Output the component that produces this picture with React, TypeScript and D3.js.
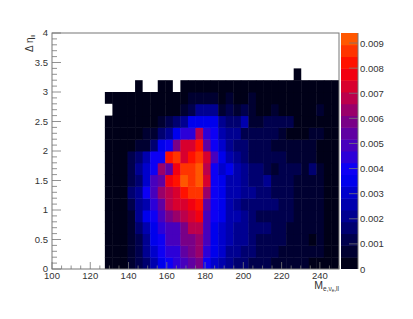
import React, { useEffect, useRef } from 'react';
import * as d3 from 'd3';

const _ = null;
// cell values in units of 1e-3, bottom row first, starting at the 8th x bin
const row00 = [.1,.1,.1,.5,1.0,1.6,2.6,3.7,4.2,4.4,4.9,5.4,6.0,4.0,3.2,2.6,2.0,1.7,1.5,1.3,1.2,1.0,.9,.8,.8,.6,.5,.4,.35,.3,.2];
const row01 = [.1,.1,.15,.8,1.3,2.0,3.0,3.8,4.4,4.6,5.2,5.9,6.2,4.3,3.7,2.9,2.2,1.9,1.8,1.5,1.3,1.2,1.0,.9,.9,.8,.6,.5,.5,.3,.2];
const row02 = [.1,.1,.2,.8,1.4,2.3,3.3,3.9,4.7,5.0,5.9,5.9,6.5,4.8,3.6,3.0,2.4,2.2,1.9,1.5,1.4,1.3,1.1,1.0,.9,.7,.6,.35,.6,.3,.3];
const row03 = [.1,.1,.2,.9,1.6,2.5,3.4,4.3,4.9,5.1,5.7,6.7,6.8,5.0,3.7,3.0,2.5,2.3,2.0,1.7,1.5,1.5,1.2,1.0,.9,.9,.8,.7,.6,.35,.3];
const row04 = [.1,.1,.2,.8,1.9,3.5,3.8,5.0,5.7,6.4,6.8,7.5,7.8,4.9,4.0,3.4,2.6,2.4,2.0,1.5,1.4,1.2,1.1,1.1,1.0,.9,.7,.6,.5,.3,.2];
const row05 = [.1,.1,.3,1.0,2.3,2.8,4.6,5.6,6.6,7.2,7.5,7.6,8.0,5.6,4.2,3.4,2.4,2.3,1.8,1.7,1.7,1.6,1.6,1.2,1.0,.9,.8,.5,.9,.3,.2];
const row06 = [.1,.1,.3,1.5,2.2,4.0,5.0,6.5,7.0,7.5,8.3,8.5,8.9,6.5,3.9,3.3,2.5,2.4,1.9,2.2,1.5,1.5,1.3,1.0,1.0,.9,.8,.7,.5,.4,.3];
const row07 = [.1,.1,.3,1.2,1.8,2.9,5.0,5.2,7.7,8.0,9.2,8.8,9.0,7.5,3.8,3.5,2.8,2.6,1.9,1.6,1.6,2.2,1.4,1.0,1.0,.8,.7,.6,.5,.4,.25];
const row08 = [.1,.1,.3,1.3,2.2,3.0,4.0,6.2,5.6,7.6,8.8,8.8,9.0,7.0,4.2,3.2,3.5,2.4,2.1,1.5,1.5,1.3,.9,1.2,1.3,1.0,.8,1.5,.5,.3,.25];
const row09 = [.1,.1,.3,1.0,1.7,2.5,3.9,4.0,8.0,8.5,7.5,8.3,8.7,7.2,5.0,3.5,2.6,2.0,1.7,1.2,1.2,1.2,1.2,1.1,.8,.8,.8,.5,.2,.4,.2];
const row10 = [.1,.1,.1,.3,.5,.8,1.5,3.5,3.9,5.8,7.3,7.3,8.2,5.5,3.9,3.2,2.3,1.8,1.6,1.3,1.1,1.0,.9,.9,.7,.7,.7,.5,.3,.3,.2];
const row11 = [.1,.1,.1,.15,.2,.5,.9,1.6,2.2,3.5,4.6,4.6,6.6,4.5,3.9,2.7,2.3,1.9,1.0,1.0,1.0,1.0,1.2,.7,.3,.3,.4,.6,.7,.2,.2];
const row12 = [.1,.1,.1,.1,.1,.2,.2,.8,1.0,1.6,2.0,3.5,3.7,3.7,3.6,2.0,1.7,1.5,2.4,.9,.9,1.0,1.0,1.0,1.0,.3,.2,.2,.2,.15,.15];
const row13 = [_,.1,.1,.1,.1,.1,.1,.2,.2,.3,.9,1.2,2.0,2.1,2.1,.9,1.3,.8,1.0,.5,.3,.2,.9,.2,.2,.2,.2,.2,.8,.15,.15];
const row14 = [.1,.1,.1,.1,.1,.1,.1,.1,.1,.1,.2,.6,.6,.6,.6,.3,.8,.2,.2,.6,.15,.15,.15,.15,.15,.15,.15,.15,.15,.15,.15];
const row15 = [_,_,_,_,.1,_,_,.1,.1,_,.1,.1,.1,.1,.1,.1,.1,.1,.1,.1,.1,.1,.1,.1,.1,.1,.1,.1,.1,.1,.1];
const row16 = [_,_,_,_,_,_,_,_,_,_,_,_,_,_,_,_,_,_,_,_,_,_,_,_,_,.1,_,_,_,_,_];
const rows = [row00,row01,row02,row03,row04,row05,row06,row07,row08,row09,row10,row11,row12,row13,row14,row15,row16];

const firstBin = 7;
const xBins = 38;
const yBins = 20;
const zMax = 9.4;
const zLevels = 20;
const zTicks = [0,.001,.002,.003,.004,.005,.006,.007,.008,.009];

const App = () => {
  const svgRef = useRef<SVGSVGElement>(null);

  useEffect(() => {
    const svg = d3.select(svgRef.current);
    svg.selectAll('*').remove();

    const left = 52, right = 339, top = 33, bottom = 269;
    const barL = 341, barR = 358;
    const textCol = '#333';
    const lineCol = '#777';

    const x = d3.scaleLinear().domain([100, 250]).range([left, right]);
    const y = d3.scaleLinear().domain([0, 4]).range([bottom, top]);
    const xBand = d3.scaleLinear().domain([0, xBins]).range([left, right]);
    const yBand = d3.scaleLinear().domain([0, yBins]).range([bottom, top]);
    const zAxisScale = d3.scaleLinear().domain([0, 0.0094]).range([bottom, top]);

    const ramp = d3.scaleLinear<string>()
      .domain([0, 1, 2, 3, 3.8, 4.6, 6, 7, 8, 9.4])
      .range(['#00000c', '#000040', '#00008a', '#0000c8', '#0000ff', '#3500d0', '#800080', '#c80040', '#ff0000', '#ff6800'])
      .clamp(true);
    const level = (v: number) => Math.min(zLevels - 1, Math.floor((v / zMax) * zLevels));
    const color = (v: number) => ramp(((level(v) + 0.5) * zMax) / zLevels);

    // heat map cells, painted with a small overlap so no white seams show
    rows.forEach((row, j) => {
      row.forEach((v, i) => {
        if (v === null) return;
        const col = i + firstBin;
        const hasRight = row[i + 1] != null;
        const hasBelow = j > 0 && rows[j - 1][i] != null;
        svg.append('rect')
          .attr('x', xBand(col))
          .attr('y', yBand(j + 1))
          .attr('width', xBand(col + 1) - xBand(col) + (hasRight ? 0.45 : 0))
          .attr('height', yBand(j) - yBand(j + 1) + (hasBelow ? 0.45 : 0))
          .attr('fill', color(v));
      });
    });

    // colour bar
    d3.range(zLevels).forEach(k => {
      const lo = (k * zMax) / zLevels;
      const hi = ((k + 1) * zMax) / zLevels;
      svg.append('rect')
        .attr('x', barL)
        .attr('y', zAxisScale(hi / 1000))
        .attr('width', barR - barL)
        .attr('height', zAxisScale(lo / 1000) - zAxisScale(hi / 1000) + (k > 0 ? 0.45 : 0))
        .attr('fill', ramp((lo + hi) / 2));
    });

    // frame
    svg.append('rect')
      .attr('x', left).attr('y', top)
      .attr('width', right - left).attr('height', bottom - top)
      .attr('fill', 'none').attr('stroke', lineCol).attr('stroke-width', 1);

    const tick = (x1: number, y1: number, x2: number, y2: number) =>
      svg.append('line')
        .attr('x1', x1).attr('y1', y1).attr('x2', x2).attr('y2', y2)
        .attr('stroke', lineCol).attr('stroke-width', 0.8);

    const label = (tx: number, ty: number, s: string, anchor: string, size = 9.5) =>
      svg.append('text')
        .attr('x', tx).attr('y', ty)
        .attr('text-anchor', anchor)
        .attr('font-family', 'Liberation Sans')
        .attr('font-size', size)
        .attr('fill', textCol)
        .text(s);

    // x axis
    d3.range(100, 251, 5).forEach(v => {
      const major = v % 20 === 0;
      tick(x(v), bottom, x(v), bottom - (major ? 7 : 3.5));
    });
    x.ticks(8).filter(v => v % 20 === 0).forEach(v => label(x(v), 279, String(v), 'middle'));

    // y axis
    d3.range(0, 41).forEach(k => {
      const v = k / 10;
      tick(left, y(v), left + (k % 5 === 0 ? 9 : 5), y(v));
    });
    d3.range(0, 4.01, 0.5).forEach(v => label(48, y(v) + 3, String(v), 'end'));

    // colour axis
    svg.append('line')
      .attr('x1', barR).attr('y1', top).attr('x2', barR).attr('y2', bottom)
      .attr('stroke', lineCol);
    zTicks.forEach(v => {
      if (v > 0) tick(barR - 9, zAxisScale(v), barR, zAxisScale(v));
      label(barR + 2, zAxisScale(v) + 3.5, String(v), 'start');
    });

    // axis titles
    const xTitle = svg.append('text')
      .attr('x', 339).attr('y', 289)
      .attr('text-anchor', 'end')
      .attr('font-family', 'Liberation Sans')
      .attr('font-size', 10.5)
      .attr('fill', textCol);
    xTitle.append('tspan').text('M');
    xTitle.append('tspan').attr('font-size', 6.5).attr('dy', 2).text('e,ν');
    xTitle.append('tspan').attr('font-size', 4.5).attr('dy', 1).text('e');
    xTitle.append('tspan').attr('font-size', 6.5).attr('dy', -1).text(',ll');

    const yTitle = svg.append('text')
      .attr('transform', 'translate(33,52) rotate(-90)')
      .attr('font-family', 'Liberation Sans')
      .attr('font-size', 10)
      .attr('fill', textCol);
    yTitle.append('tspan').text('Δ η');
    yTitle.append('tspan').attr('font-size', 6).attr('dy', 2).text('ll');
  }, []);

  return (
    <svg
      ref={svgRef}
      width={413}
      height={319}
      style={{ position: 'absolute', left: 0, top: 0, background: 'white' }}
    />
  );
};

export default App;
